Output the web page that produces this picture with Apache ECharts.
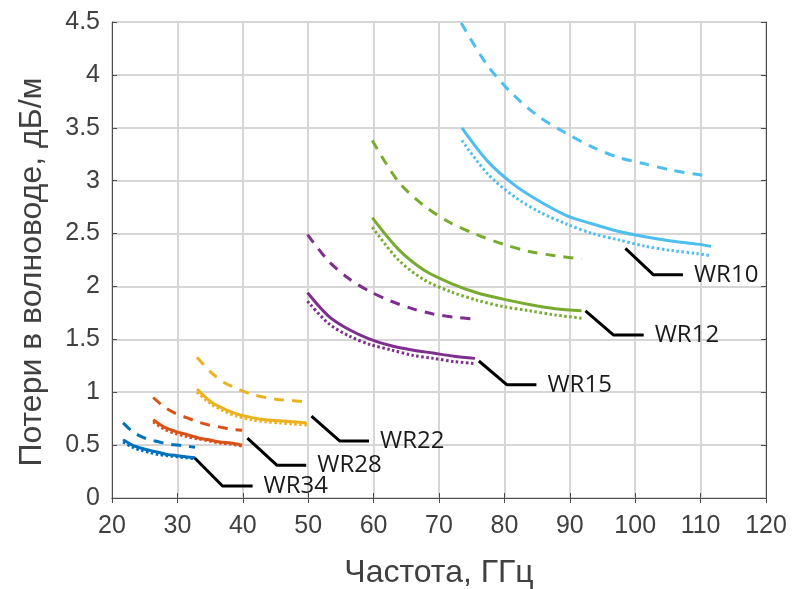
<!DOCTYPE html>
<html><head><meta charset="utf-8">
<script src="https://cdn.jsdelivr.net/npm/echarts@6/dist/echarts.min.js"></script>
<style>html,body{margin:0;padding:0;background:#fff}#c{width:794px;height:589px}</style>
</head><body><div id="c"></div>
<script>
// x ticks / y ticks
const xTicks = [20,30,40,50,60,70,80,90,100,110,120];
const yTicks = [0,0.5,1,1.5,2,2.5,3,3.5,4,4.5];

// WR34 (blue)
const wr34X      = [21.7,23.1,24.5,25.8,27.2,28.6,30.0,31.3,32.7];
const wr34Solid  = [0.55,0.50,0.47,0.45,0.43,0.41,0.40,0.39,0.38];
const wr34Dotted = [0.53,0.48,0.45,0.43,0.41,0.40,0.39,0.38,0.37];
const wr34Dashed = [0.71,0.63,0.58,0.55,0.53,0.51,0.50,0.49,0.48];
// WR28 (orange)
const wr28X      = [26.3,28.0,29.7,31.4,33.1,34.8,36.5,38.2,39.9];
const wr28Solid  = [0.74,0.67,0.63,0.60,0.57,0.55,0.53,0.52,0.50];
const wr28Dotted = [0.72,0.65,0.61,0.58,0.56,0.54,0.52,0.51,0.49];
const wr28Dashed = [0.95,0.86,0.80,0.76,0.72,0.69,0.67,0.65,0.64];
// WR22 (yellow)
const wr22X      = [33,35.1,37.2,39.3,41.4,43.5,45.6,47.7,49.8];
const wr22Solid  = [1.03,0.91,0.84,0.79,0.76,0.74,0.73,0.72,0.71];
const wr22Dotted = [1.00,0.89,0.82,0.77,0.74,0.72,0.71,0.70,0.69];
const wr22Dashed = [1.33,1.19,1.09,1.03,0.98,0.95,0.93,0.92,0.91];
// WR15 (purple)
const wr15X      = [49.9,53.1,56.3,59.5,62.7,65.9,69.1,72.3,75.5];
const wr15Solid  = [1.94,1.72,1.59,1.50,1.44,1.40,1.37,1.34,1.32];
const wr15Dotted = [1.86,1.65,1.53,1.45,1.40,1.35,1.32,1.29,1.27];
const wr15Dashed = [2.49,2.24,2.07,1.95,1.86,1.79,1.74,1.71,1.69];
// WR12 (green)
const wr12X      = [59.8,63.8,67.8,71.8,75.8,79.8,83.8,87.8,91.8];
const wr12Solid  = [2.65,2.35,2.15,2.03,1.94,1.88,1.83,1.79,1.77];
const wr12Dotted = [2.56,2.25,2.06,1.95,1.87,1.81,1.77,1.73,1.70];
const wr12Dashed = [3.38,2.99,2.76,2.60,2.49,2.40,2.33,2.29,2.26];
// WR10 (light blue)
const wr10X      = [73.5,77.5,81.5,85.5,89.5,93.5,97.5,101.5,105.5,109.5,111.6];
const wr10Solid  = [3.50,3.18,2.96,2.80,2.67,2.59,2.52,2.47,2.43,2.40,2.38];
const wr10Dotted = [3.38,3.06,2.85,2.70,2.59,2.50,2.44,2.38,2.34,2.31,2.29];
const wr10DashX  = [73.4,77.4,81.4,85.4,89.4,93.4,97.4,101.4,105.4,109.4,110.4];
const wr10Dashed = [4.49,4.09,3.81,3.60,3.45,3.32,3.22,3.16,3.10,3.06,3.05];

// leader lines to labels
const guideNames = ['WR34','WR28','WR22','WR15','WR12','WR10'];
const guideLines = [
  [[32.65,0.378],[36.9,0.113],[41.5,0.113]],
  [[40.7,0.567],[45.2,0.31],[49.7,0.31]],
  [[50.5,0.775],[54.8,0.54],[59.3,0.54]],
  [[76.1,1.295],[80.4,1.07],[84.9,1.07]],
  [[92.4,1.77],[96.7,1.54],[101.3,1.54]],
  [[98.5,2.36],[102.8,2.11],[107.3,2.11]]
];

const zip = (xs, ys) => ys.map((y, i) => [xs[i], y]);
const groups = [
  {c:'#0072BD', x:wr34X, dx:wr34X, s:wr34Solid, d:wr34Dashed, o:wr34Dotted},
  {c:'#D95319', x:wr28X, dx:wr28X, s:wr28Solid, d:wr28Dashed, o:wr28Dotted},
  {c:'#EDB120', x:wr22X, dx:wr22X, s:wr22Solid, d:wr22Dashed, o:wr22Dotted},
  {c:'#7E2F8E', x:wr15X, dx:wr15X, s:wr15Solid, d:wr15Dashed, o:wr15Dotted},
  {c:'#77AC30', x:wr12X, dx:wr12X, s:wr12Solid, d:wr12Dashed, o:wr12Dotted},
  {c:'#4DBEEE', x:wr10X, dx:wr10DashX, s:wr10Solid, d:wr10Dashed, o:wr10Dotted}
];

const series = [];
groups.forEach(g => {
  const base = {type:'line', showSymbol:false, symbol:'none', smooth:0.3, silent:true, clip:true};
  series.push(Object.assign({}, base, {data:zip(g.x, g.o), lineStyle:{color:g.c, width:3, type:[2.5,2.5]}}));
  series.push(Object.assign({}, base, {data:zip(g.x, g.s), lineStyle:{color:g.c, width:3, type:'solid'}}));
  series.push(Object.assign({}, base, {data:zip(g.dx, g.d), lineStyle:{color:g.c, width:3, type:[10,8]}}));
});
guideLines.forEach((pts, i) => {
  series.push({type:'line', symbol:'none', silent:true, data:pts,
    lineStyle:{color:'#000', width:3}, z:5,
    endLabel:{show:true, formatter:guideNames[i], distance:11,
      color:'#1a1a1a', fontFamily:'Open Sans', fontSize:24}});
});

const axisFont = {fontFamily:'Liberation Sans', fontSize:25, color:'#404040'};
const chart = echarts.init(document.getElementById('c'), null, {renderer:'canvas'});
chart.setOption({
  animation:false,
  backgroundColor:'#fff',
  grid:{left:112, right:28, top:22, bottom:91, containLabel:false, outerBoundsMode:'none'},
  xAxis:[{
    type:'value', min:xTicks[0], max:xTicks[xTicks.length-1], interval:10,
    name:'Частота, ГГц', nameLocation:'middle', nameGap:59,
    nameTextStyle:{fontFamily:'Liberation Sans', fontSize:32, color:'#404040'},
    axisLine:{show:true, lineStyle:{color:'#4d4d4d', width:1}},
    axisTick:{show:true, inside:true, length:5, lineStyle:{color:'#4d4d4d'}},
    axisLabel:Object.assign({margin:16}, axisFont),
    splitLine:{show:true, lineStyle:{color:'#d6d6d6', width:2}}
  },{
    type:'value', position:'top', min:xTicks[0], max:xTicks[xTicks.length-1], interval:10,
    axisLine:{show:true, lineStyle:{color:'#4d4d4d', width:1}},
    axisTick:{show:true, inside:true, length:5, lineStyle:{color:'#4d4d4d'}},
    axisLabel:{show:false}, splitLine:{show:false}
  }],
  yAxis:[{
    type:'value', min:yTicks[0], max:yTicks[yTicks.length-1], interval:0.5,
    name:'Потери в волноводе, дБ/м', nameLocation:'middle', nameGap:64,
    nameTextStyle:{fontFamily:'Liberation Sans', fontSize:32, color:'#404040', padding:[0,24,0,0]},
    axisLine:{show:true, lineStyle:{color:'#4d4d4d', width:1}},
    axisTick:{show:true, inside:true, length:5, lineStyle:{color:'#4d4d4d'}},
    axisLabel:Object.assign({margin:12}, axisFont),
    splitLine:{show:true, lineStyle:{color:'#d6d6d6', width:2}}
  },{
    type:'value', position:'right', min:yTicks[0], max:yTicks[yTicks.length-1], interval:0.5,
    axisLine:{show:true, lineStyle:{color:'#4d4d4d', width:1}},
    axisTick:{show:true, inside:true, length:5, lineStyle:{color:'#4d4d4d'}},
    axisLabel:{show:false}, splitLine:{show:false}
  }],
  series:series
});
</script></body></html>
